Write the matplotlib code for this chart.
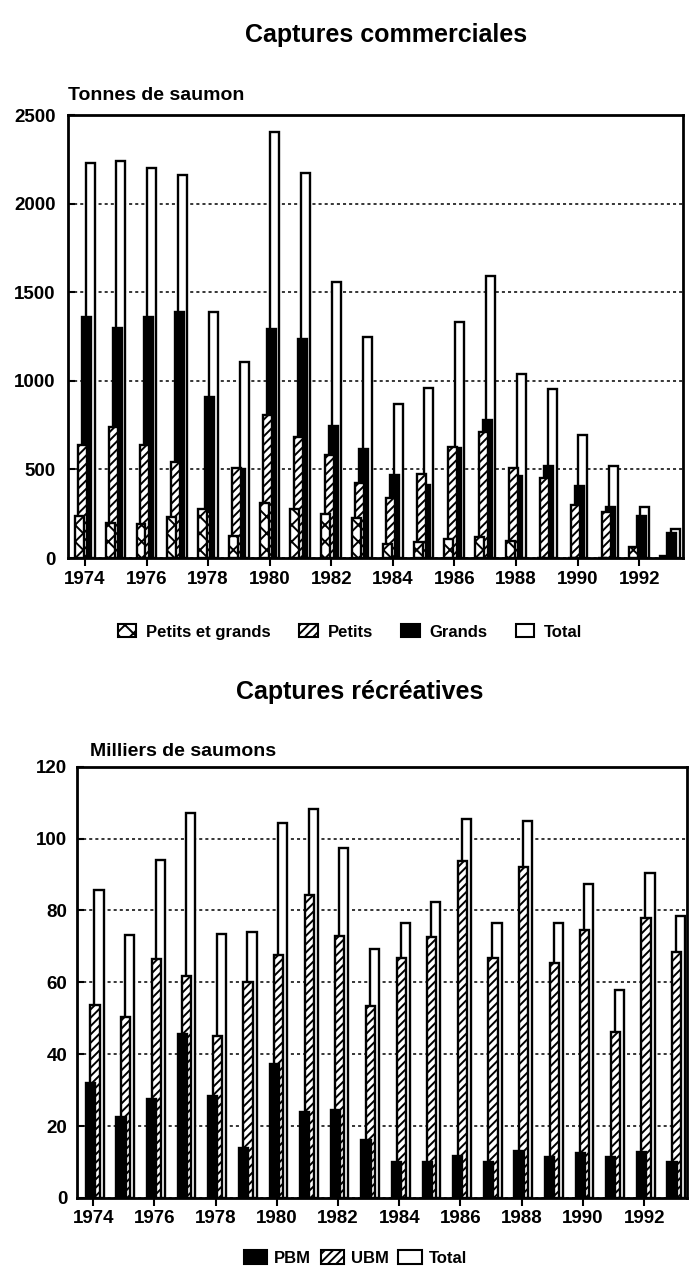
import numpy as np
import matplotlib
matplotlib.use("Agg")
import matplotlib.pyplot as plt
from matplotlib.patches import Patch

plt.rcParams['font.family'] = ['Liberation Sans', 'DejaVu Sans']
plt.rcParams['font.weight'] = 'bold'
plt.rcParams['hatch.linewidth'] = 1.4

years = list(range(1974, 1994))

# Captures commerciales (tonnes)
petits_et_grands = [240, 200, 190, 230, 275, 125, 313, 274, 246, 228,
                    78, 88, 110, 116, 97, 0, 0, 0, 60, 10]
petits = [640, 740, 640, 540, 260, 510, 806, 681, 582, 424,
          340, 476, 629, 713, 508, 452, 302, 260, 0, 0]
grands = [1360, 1300, 1360, 1390, 909, 500, 1295, 1236, 745, 614,
          470, 414, 620, 778, 461, 521, 405, 288, 237, 144]
total_comm = [2230, 2240, 2200, 2160, 1390, 1105, 2406, 2174, 1558, 1250,
              872, 961, 1334, 1590, 1040, 956, 694, 521, 289, 162]

# Captures recreatives (milliers)
pbm = [31.9, 22.6, 27.5, 45.6, 28.4, 13.9, 37.4, 24.0, 24.5, 16.0,
       10.0, 10.0, 11.7, 10.0, 13.1, 11.4, 12.6, 11.4, 12.7, 10.0]
ubm = [53.6, 50.4, 66.4, 61.7, 45.1, 60.1, 67.5, 84.3, 73.0, 53.3,
       66.8, 72.5, 93.8, 66.8, 92.0, 65.4, 74.7, 46.2, 77.8, 68.4]
total_rec = [85.7, 73.3, 94.0, 107.0, 73.5, 74.0, 104.3, 108.3, 97.5, 69.3,
             76.5, 82.4, 105.5, 76.5, 104.9, 76.5, 87.4, 57.8, 90.3, 78.4]

x = np.array(years)
tick_years = list(range(1974, 1993, 2))

fig = plt.figure(figsize=(6.91, 12.77), dpi=100)

def style_axes(ax, ylim, yticks, ypad):
    ax.set_ylim(*ylim)
    ax.set_yticks(yticks)
    ax.set_xticks(tick_years)
    ax.set_xticklabels([str(t) for t in tick_years], fontsize=13.5, fontweight='bold')
    ax.tick_params(axis='y', direction='in', length=5, width=1.5, labelsize=13.5, pad=ypad)
    ax.tick_params(axis='x', direction='out', length=6, width=1.5, pad=3)
    for lbl in ax.get_yticklabels():
        lbl.set_fontweight('bold')
    for s in ax.spines.values():
        s.set_linewidth(2)
    ax.yaxis.grid(True, linestyle=(0, (2, 2)), color='black', linewidth=1.1)
    ax.set_axisbelow(True)

# ---- top chart ----
ax1 = fig.add_axes([0.0984, 0.563, 0.890, 0.3469])
w = 0.29
ax1.bar(x + 0.17, total_comm, w, color='white', edgecolor='black', linewidth=1.7, zorder=2)
ax1.bar(x + 0.06, grands, w, color='black', edgecolor='black', linewidth=1.7, zorder=3)
ax1.bar(x - 0.07, petits, w, color='white', edgecolor='black', hatch='////', linewidth=1.7, zorder=4)
ax1.bar(x - 0.18, petits_et_grands, w, color='white', edgecolor='black', hatch='xx', linewidth=1.7, zorder=5)
style_axes(ax1, (0, 2500), [0, 500, 1000, 1500, 2000, 2500], 9)
ax1.set_xlim(1973.45, 1993.42)

fig.text(0.558, 1 - 41.7 / 1277, "Captures commerciales", ha='center', va='baseline',
         fontsize=18, fontweight='bold')
fig.text(0.098, 1 - 100 / 1277, "Tonnes de saumon", ha='left', va='baseline',
         fontsize=14, fontweight='bold')

h1 = [Patch(facecolor='white', edgecolor='black', hatch='xx', linewidth=1.5),
      Patch(facecolor='white', edgecolor='black', hatch='////', linewidth=1.5),
      Patch(facecolor='black', edgecolor='black', linewidth=1.5),
      Patch(facecolor='white', edgecolor='black', linewidth=1.5)]
fig.legend(h1, ["Petits et grands", "Petits", "Grands", "Total"], loc='center',
           bbox_to_anchor=(0.507, 1 - 632 / 1277), ncol=4, frameon=False,
           prop={'size': 12, 'weight': 'bold'}, columnspacing=1.7,
           handlelength=1.1, handleheight=0.8, handletextpad=0.6)

# ---- bottom chart ----
ax2 = fig.add_axes([0.1114, 0.0619, 0.8828, 0.3377])
w2 = 0.3
ax2.bar(x + 0.19, total_rec, w2, color='white', edgecolor='black', linewidth=1.7, zorder=2)
ax2.bar(x + 0.06, ubm, w2, color='white', edgecolor='black', hatch='////', linewidth=1.7, zorder=3)
ax2.bar(x - 0.09, pbm, w2, color='black', edgecolor='black', linewidth=1.7, zorder=4)
style_axes(ax2, (0, 120), [0, 20, 40, 60, 80, 100, 120], 7)
ax2.set_xlim(1973.47, 1993.4)

fig.text(0.52, 1 - 699 / 1277, "Captures récréatives", ha='center', va='baseline',
         fontsize=18, fontweight='bold')
fig.text(0.13, 1 - 755.7 / 1277, "Milliers de saumons", ha='left', va='baseline',
         fontsize=14, fontweight='bold')

h2 = [Patch(facecolor='black', edgecolor='black', linewidth=1.5),
      Patch(facecolor='white', edgecolor='black', hatch='////', linewidth=1.5),
      Patch(facecolor='white', edgecolor='black', linewidth=1.5)]
fig.legend(h2, ["PBM", "UBM", "Total"], loc='center',
           bbox_to_anchor=(0.514, 1 - 1258 / 1277), ncol=3, frameon=False,
           prop={'size': 12, 'weight': 'bold'}, columnspacing=0.6,
           handlelength=1.4, handleheight=0.9, handletextpad=0.4)

fig.savefig("out.png", dpi=100)
